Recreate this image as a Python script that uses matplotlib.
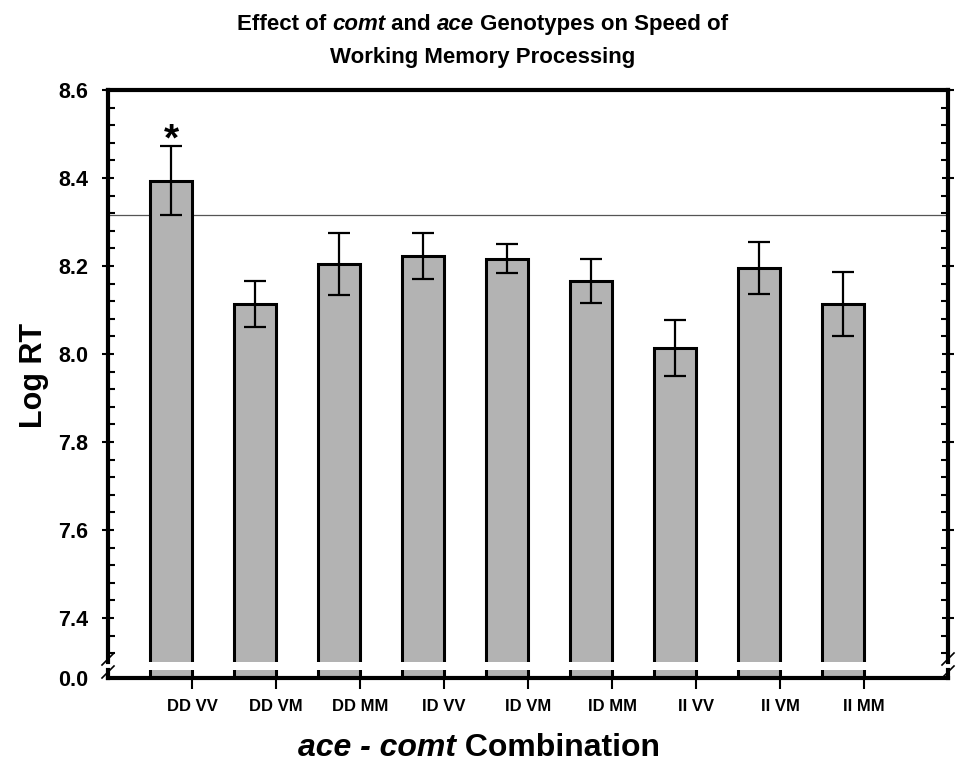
import numpy as np
import matplotlib
matplotlib.use('Agg')
import matplotlib.pyplot as plt
from matplotlib.lines import Line2D

# data
groups = ['DD VV', 'DD VM', 'DD MM', 'ID VV', 'ID VM', 'ID MM', 'II VV', 'II VM', 'II MM']
log_rt = [8.394, 8.114, 8.204, 8.222, 8.217, 8.166, 8.014, 8.195, 8.113]
sem = [0.079, 0.053, 0.071, 0.052, 0.033, 0.050, 0.064, 0.059, 0.073]
ref_line = 8.317
signif = ['*', '', '', '', '', '', '', '', '']

W, H = 961, 773
narrow = ['Liberation Sans Narrow', 'Liberation Sans', 'DejaVu Sans']
plain = ['Liberation Sans', 'DejaVu Sans']
plt.rcParams['font.family'] = plain

fig = plt.figure(figsize=(W / 100, H / 100), dpi=100)

def fx(px):
    return px / W

def fy(py):
    return 1 - py / H

left, right = 108, 948
ax = fig.add_axes([fx(left), fy(662), fx(right - left), (662 - 90) / H])
ax2 = fig.add_axes([fx(left), fy(678), fx(right - left), 8 / H])

x = np.arange(1, len(groups) + 1)
bar_col = '#b3b3b3'
for a in (ax, ax2):
    a.bar(x, log_rt, width=0.5, color=bar_col, edgecolor='black', linewidth=2.2, zorder=2)
    a.set_xlim(0.25, 10.25)

ax.errorbar(x, log_rt, yerr=sem, fmt='none', ecolor='black', elinewidth=1.6,
            capsize=8, capthick=1.6, zorder=3)
ax.axhline(ref_line, color='#555555', linewidth=0.9, zorder=1)
for xi, v, e, s in zip(x, log_rt, sem, signif):
    if s:
        ax.text(xi, v + e + 0.012, s, ha='center', va='center', fontsize=28,
                fontweight='bold')

ax.set_ylim(7.3, 8.6)
ax.set_yticks(np.arange(7.4, 8.61, 0.2))
ax.set_yticks(np.arange(7.32, 8.6, 0.04), minor=True)
ax.set_yticklabels(['%.1f' % v for v in np.arange(7.4, 8.61, 0.2)],
                   fontsize=15.5, fontweight='bold')
ax.tick_params(axis='y', which='major', direction='inout', length=8, width=1.5,
               right=True, pad=10)
ax.tick_params(axis='y', which='minor', direction='in', length=5, width=1.5, right=True)
ax.set_xticks([])
ax.spines['bottom'].set_visible(False)
for s in ('top', 'left', 'right'):
    ax.spines[s].set_linewidth(3)

ax2.set_ylim(0, 0.5)
ax2.set_yticks([0])
ax2.set_yticklabels(['0.0'], fontsize=15.5, fontweight='bold')
ax2.tick_params(axis='y', direction='out', length=0, pad=14)
ax2.set_xticks(x + 0.25)
ax2.set_xticklabels(groups, fontsize=12, fontweight='bold', family=narrow)
ax2.tick_params(axis='x', direction='out', length=8, width=1.5, pad=7)
ax2.spines['top'].set_visible(False)
for s in ('bottom', 'left', 'right'):
    ax2.spines[s].set_linewidth(3)

# axis break slashes
for xs in (left, right):
    for yc in (659, 672):
        fig.add_artist(Line2D([fx(xs - 6), fx(xs + 6)], [fy(yc + 6), fy(yc - 6)],
                              color='black', linewidth=1.2))


def rich_text(xc, y, parts, size):
    # place bold text pieces side by side, some of them italic
    renderer = fig.canvas.get_renderer()
    items = []
    for s, st in parts:
        t = fig.text(0, y, s, fontsize=size, fontweight='bold', style=st,
                     family=narrow, va='baseline', ha='left')
        items.append(t)
    widths = [t.get_window_extent(renderer).width / W for t in items]
    x0 = xc - sum(widths) / 2
    for t, w in zip(items, widths):
        t.set_x(x0)
        x0 += w


rich_text(0.502, fy(30), [('Effect of ', 'normal'), ('comt', 'italic'),
                          (' and ', 'normal'), ('ace', 'italic'),
                          (' Genotypes on Speed of', 'normal')], 16)
rich_text(0.502, fy(63), [('Working Memory Processing', 'normal')], 16)
rich_text(0.498, fy(756), [('ace - comt', 'italic'), (' Combination', 'normal')], 23)

fig.text(fx(34), fy(375), 'Log RT', rotation=90, ha='center', va='center',
         fontsize=22, fontweight='bold')

fig.savefig('out.png', dpi=100)
